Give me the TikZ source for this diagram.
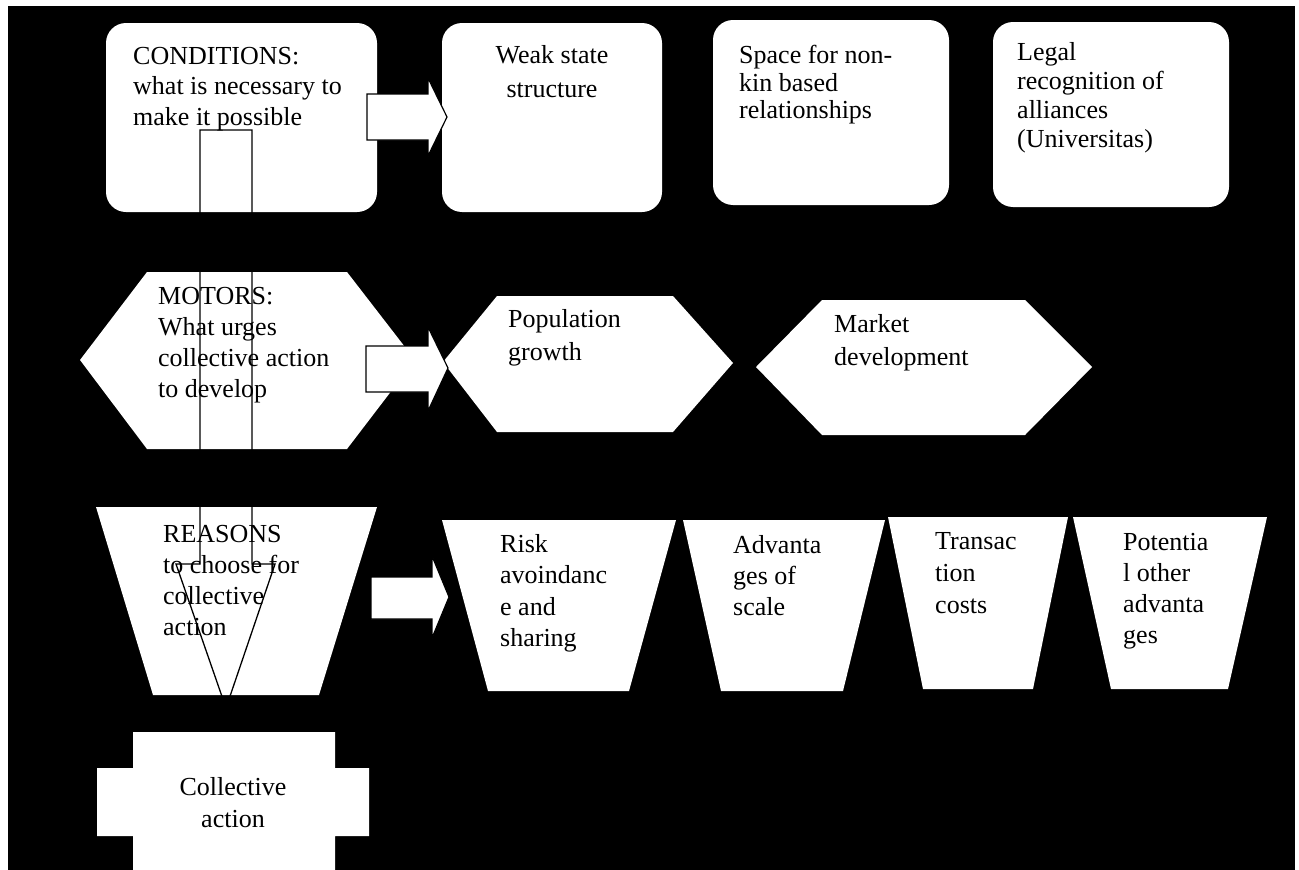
\documentclass[tikz,border=0pt]{standalone}
\usepackage{fontspec}
\setmainfont{Liberation Serif}
\begin{document}
\begin{tikzpicture}[x=1pt,y=-1pt,
  panel/.style={fill=white,draw=none},
  blockarrow/.style={fill=white,draw=black,line width=1.2pt,line join=miter},
  outlinearrow/.style={draw=black,line width=1.3pt,line join=miter},
  txt/.style={inner sep=0pt,anchor=north west,align=left,text=black,font=\fontsize{26}{#1}\selectfont},
  txt/.default=31,
  txtc/.style={inner sep=0pt,anchor=north,align=center,text=black,font=\fontsize{26}{#1}\selectfont},
  txtc/.default=31]
% page and background
\useasboundingbox (0,0) rectangle (1299,870);
\fill[white] (0,0) rectangle (1299,870);
\fill[black] (8,6) rectangle (1295,870);

% row 1: conditions (rounded boxes)
\fill[panel,rounded corners=20pt] (106,23) rectangle (377,212);
\fill[panel,rounded corners=20pt] (442,23) rectangle (662,212);
\fill[panel,rounded corners=20pt] (713,20) rectangle (949,205);
\fill[panel,rounded corners=20pt] (993,22) rectangle (1229,207);

% row 2: motors (hexagons)
\fill[panel] (80,360) -- (147,272) -- (347,272) -- (415,360) -- (347,449) -- (147,449) -- cycle;
\fill[panel] (443,362) -- (497,296) -- (673,296) -- (733,363) -- (673,432) -- (497,432) -- cycle;
\fill[panel] (756,367) -- (822,300) -- (1025,300) -- (1092,367) -- (1025,435) -- (822,435) -- cycle;

% row 3: reasons (trapezoids)
\fill[panel] (96,507) -- (377,507) -- (319,695) -- (153,695) -- cycle;
\fill[panel] (442,520) -- (676,520) -- (629,691) -- (488,691) -- cycle;
\fill[panel] (683,520) -- (885,520) -- (843,691) -- (721,691) -- cycle;
\fill[panel] (888,517) -- (1068,517) -- (1033,689) -- (923,689) -- cycle;
\fill[panel] (1073,517) -- (1267,517) -- (1228,689) -- (1111,689) -- cycle;

% collective action
\fill[panel] (133,732) -- (335,732) -- (335,768) -- (369,768) -- (369,836) -- (335,836)
  -- (335,870) -- (133,870) -- (133,836) -- (97,836) -- (97,768) -- (133,768) -- cycle;

% texts
\node[txt=30.5] (cond) at (133,47) {CONDITIONS:\\what is necessary to\\make it possible};
\node[txtc=34] (weak) at (552,45) {Weak state\\structure};
\node[txt=27.5] (space) at (739,45) {Space for non-\\kin based\\relationships};
\node[txt=29] (legal) at (1017,42) {Legal\\recognition of\\alliances\\(Universitas)};
\node[txt=31] (motors) at (158,287) {MOTORS:\\What urges\\collective action\\to develop};
\node[txt=33] (pop) at (508,309) {Population\\growth};
\node[txt=33] (market) at (834,314) {Market\\development};
\node[txt=31] (reasons) at (163,525) {REASONS\\to choose for\\collective\\action};
\node[txt=31.5] (risk) at (500,534) {Risk\\avoindanc\\e and\\sharing};
\node[txt=31] (adv) at (733,535) {Advanta\\ges of\\scale};
\node[txt=32] (trans) at (935,532) {Transac\\tion\\costs};
\node[txt=31] (pot) at (1123,533) {Potentia\\l other\\advanta\\ges};
\node[txtc=32] (coll) at (233,777) {Collective\\action};

% block arrows
\draw[blockarrow] (367,94) -- (428,94) -- (428,78) -- (447,117) -- (428,156) -- (428,140) -- (367,140) -- cycle;
\draw[blockarrow] (366,346) -- (428,346) -- (428,327) -- (448,368) -- (428,411) -- (428,392) -- (366,392) -- cycle;
\draw[blockarrow] (371,577) -- (432,577) -- (432,556) -- (449,597) -- (432,638) -- (432,619) -- (371,619) -- cycle;

% vertical outline arrow
\draw[outlinearrow] (200,130) -- (252,130) -- (252,564) -- (275,564) -- (226,708) -- (176,564) -- (200,564) -- cycle;
\end{tikzpicture}
\end{document}
